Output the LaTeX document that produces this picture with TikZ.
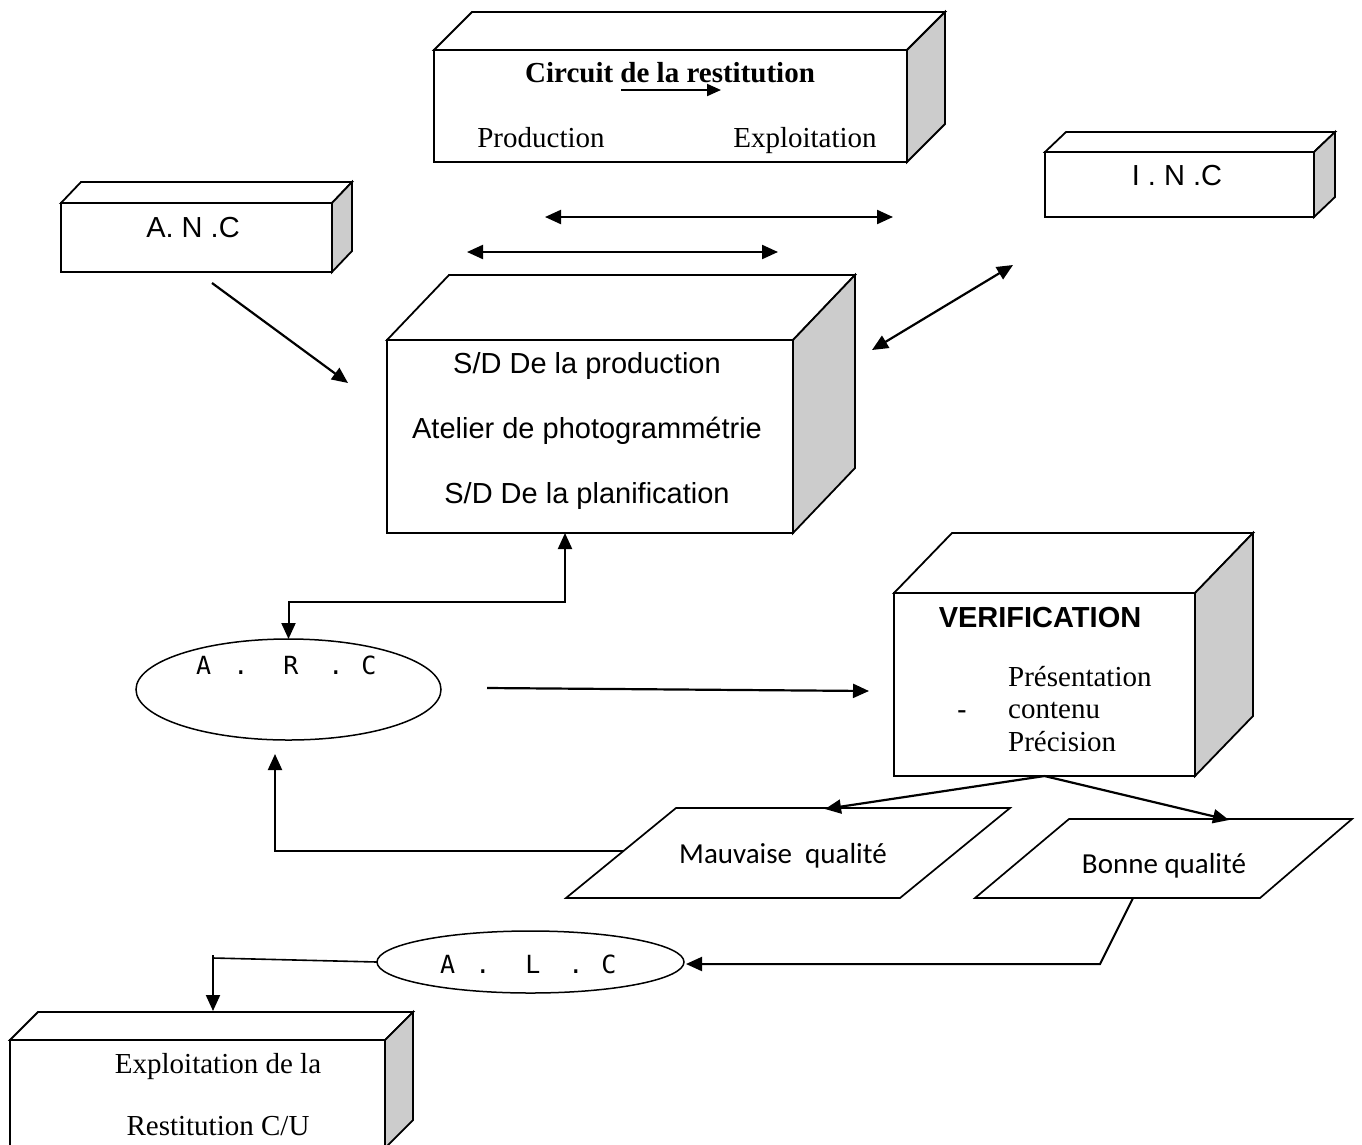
\documentclass[tikz,border=0pt]{standalone}
\usepackage{fontspec}
\setmainfont{Liberation Serif}
\newfontfamily\arialf{Liberation Sans}
\newfontfamily\calibf{Carlito}
\newfontfamily\monof{DejaVu Sans Mono}
\usetikzlibrary{arrows.meta,shapes.geometric,calc}
\definecolor{sidegray}{RGB}{204,204,204}
\tikzset{
  boxline/.style={draw=black, line width=1.8pt, line join=miter},
  front/.style={boxline, fill=white, rectangle, outer sep=0pt, inner sep=0pt},
  oval/.style={draw=black, line width=1.5pt, ellipse, outer sep=0pt, inner sep=0pt},
  para/.style={draw=black, line width=1.7pt, fill=white, line join=miter},
  conn/.style={draw=black, line width=2.2pt},
  tip/.style={-{Triangle[length=16pt,width=14pt]}},
  tips/.style={{Triangle[length=16pt,width=14pt]}-{Triangle[length=16pt,width=14pt]}},
  ser/.style={font=\fontsize{29}{34}\selectfont, inner sep=0pt, anchor=base},
  serb/.style={font=\bfseries\fontsize{29}{34}\selectfont, inner sep=0pt, anchor=base},
  sans/.style={font=\arialf\fontsize{29}{34}\selectfont, inner sep=0pt, anchor=base},
  sansb/.style={font=\arialf\bfseries\fontsize{29}{34}\selectfont, inner sep=0pt, anchor=base},
  cal/.style={font=\calibf\fontsize{29}{34}\selectfont, inner sep=0pt, anchor=base},
  mono/.style={font=\monof\fontsize{25}{30}\selectfont, inner sep=0pt, anchor=base west},
}
\newcommand{\depthbox}[3]{%
  \draw[boxline,fill=white] (#1.north west) -- ++(#2,-#3) -- ($(#1.north east)+(#2,-#3)$) -- (#1.north east) -- cycle;
  \draw[boxline,fill=sidegray] (#1.north east) -- ++(#2,-#3) -- ($(#1.south east)+(#2,-#3)$) -- (#1.south east) -- cycle;}
\begin{document}
\begin{tikzpicture}[x=1pt,y=-1pt]
\fill[white] (0,0) rectangle (1362,1144);
\useasboundingbox (0,0) rectangle (1362,1144);

% ---------- 3D boxes ----------
\node[front, minimum width=473pt, minimum height=112pt] (circ) at (670.5,106) {};
\depthbox{circ}{38}{38}
\node[front, minimum width=271pt, minimum height=69pt] (anc) at (196.5,237.5) {};
\depthbox{anc}{20}{21}
\node[front, minimum width=269pt, minimum height=65pt] (inc) at (1179.5,184.5) {};
\depthbox{inc}{21}{20}
\node[front, minimum width=406pt, minimum height=193pt] (prod) at (590,436.5) {};
\depthbox{prod}{62}{65}
\node[front, minimum width=301pt, minimum height=183pt] (verif) at (1044.5,684.5) {};
\depthbox{verif}{58}{60}
\node[front, minimum width=375pt, minimum height=108pt] (expl) at (197.5,1094) {};
\depthbox{expl}{28}{28}

% ---------- texts in boxes ----------
\node[serb] (tcirc) at (670,82) {Circuit de la restitution};
\node[ser] (tprod1) at (541,147) {Production};
\node[ser] (texpl1) at (805,147) {Exploitation};
\coordinate (ia) at (621,90);
\coordinate (ib) at (721,90);
\draw[conn, line width=2pt, -{Triangle[length=14pt,width=12pt]}] (ia) -- (ib);

\node[sans] (tanc) at (193,237) {A. N .C};
\node[sans] (tinc) at (1177,185) {I . N .C};

\node[sans] (tp1) at (587,373) {S/D De la production};
\node[sans] (tp2) at (587,438) {Atelier de photogrammétrie};
\node[sans] (tp3) at (587,503) {S/D De la planification};

\node[sansb] (tver) at (1040,627) {VERIFICATION};
\node[ser, anchor=base west] (tv1) at (1008,686) {Présentation};
\node[ser, anchor=base west] (tv2) at (1008,718) {contenu};
\node[ser, anchor=base west] (tv3) at (1008,751) {Précision};
\node[sans] (tvd) at (962,719) {-};

\node[ser] (te1) at (218,1073) {Exploitation de la};
\node[ser] (te2) at (218,1135) {Restitution C/U};

% ---------- ellipses ----------
\node[oval, minimum width=305pt, minimum height=101pt] (arc) at (288.5,689.5) {};
\node[mono] (tarc) at (196,674) {A\hspace{22pt}.\hspace{35pt}R\hspace{30pt}.\hspace{18pt}C};
\node[oval, minimum width=307pt, minimum height=62pt] (alc) at (530.5,962) {};
\node[mono] (talc) at (440,973) {A\hspace{20pt}.\hspace{35pt}L\hspace{28pt}.\hspace{18pt}C};

% ---------- parallelograms ----------
\coordinate (m1) at (676,808);
\coordinate (m2) at (1010,808);
\coordinate (m3) at (900,898);
\coordinate (m4) at (566,898);
\draw[para] (m1) -- (m2) -- (m3) -- (m4) -- cycle;
\node[cal] (tmau) at (783,863) {Mauvaise\ \ qualité};
\coordinate (b1) at (1069,819);
\coordinate (b2) at (1352,819);
\coordinate (b3) at (1260,898);
\coordinate (b4) at (975,898);
\draw[para] (b1) -- (b2) -- (b3) -- (b4) -- cycle;
\node[cal] (tbon) at (1164,873) {Bonne qualité};

% ---------- connectors ----------
\coordinate (h1a) at (545,217);
\coordinate (h1b) at (893,217);
\draw[conn, tips] (h1a) -- (h1b);
\coordinate (h2a) at (467,252);
\coordinate (h2b) at (778,252);
\draw[conn, tips] (h2a) -- (h2b);

\coordinate (anca) at (212,283);
\coordinate (ancb) at (348,383);
\draw[conn, tip] (anca) -- (ancb);

\coordinate (inca) at (872,350);
\coordinate (incb) at (1013,265);
\draw[conn, tips] (inca) -- (incb);

\coordinate (k1) at (565,602);
\draw[conn, line width=2pt, tips] (prod.south -| k1) -- (k1) -| (arc.north);

\coordinate (arca) at (487,688);
\coordinate (arcb) at (869,691);
\draw[conn, tip] (arca) -- (arcb);

\coordinate (vm) at (825,809);
\coordinate (vb) at (1229,820);
\draw[conn, tip] (verif.south) -- (vm);
\draw[conn, tip] (verif.south) -- (vb);

\coordinate (ml) at (623,851);
\coordinate (mc) at (275,851);
\coordinate (mt) at (275,754);
\draw[conn, line width=2pt, tip, line join=miter] (ml) -- (mc) -- (mt);

\coordinate (bs) at (1133,898);
\coordinate (bc) at (1100,964);
\coordinate (bt) at (686,964);
\draw[conn, line width=2pt, tip, line join=miter] (bs) -- (bc) -- (bt);

\coordinate (ac) at (213,958);
\coordinate (at1) at (213,955);
\coordinate (at2) at (213,1011);
\draw[conn, line width=1.6pt] (alc.west) -- (ac);
\draw[conn, line width=2pt, tip] (at1) -- (at2);
\end{tikzpicture}
\end{document}
